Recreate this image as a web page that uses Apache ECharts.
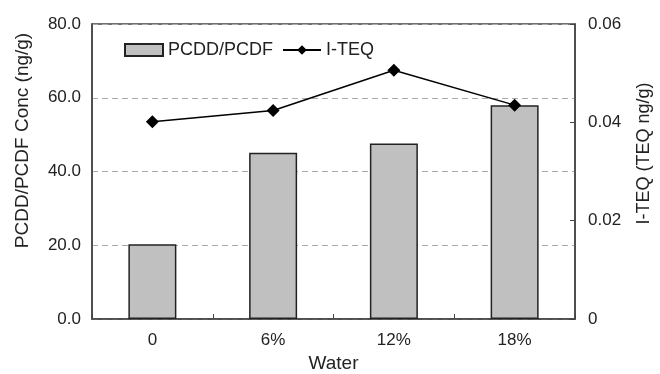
<!DOCTYPE html>
<html>
<head>
<meta charset="utf-8">
<script src="https://cdn.jsdelivr.net/npm/echarts@6/dist/echarts.min.js"></script>
<style>
  html, body { margin: 0; padding: 0; background: #fff; }
  #chart { width: 660px; height: 374px; }
</style>
</head>
<body>
<div id="chart"></div>
<script>
// Water content levels on the x axis
const categories = ['0', '6%', '12%', '18%'];
// PCDD/PCDF concentration (ng/g), left axis
const pcddValues = [20.3, 45.1, 47.6, 58.0];
// I-TEQ (TEQ ng/g), right axis
const iteqValues = [0.0401, 0.0424, 0.0506, 0.0435];

const FONT = "'Liberation Sans', Arial, sans-serif";
const TEXT = '#222';
const AXIS = '#444';

const chart = echarts.init(document.getElementById('chart'), null, { renderer: 'canvas' });

chart.setOption({
  animation: false,
  backgroundColor: '#fff',
  textStyle: { fontFamily: FONT, color: TEXT },
  grid: {
    left: 92, right: 85, top: 24, bottom: 55,
    outerBoundsMode: 'none',
    containLabel: false,
    show: true, borderColor: AXIS, borderWidth: 1.5, backgroundColor: 'transparent'
  },
  legend: {
    left: 119, top: 36,
    itemWidth: 38, itemHeight: 12, itemGap: 9,
    textStyle: { fontFamily: FONT, fontSize: 18, color: TEXT },
    data: [
      { name: 'PCDD/PCDF', icon: 'rect' },
      { name: 'I-TEQ' }
    ]
  },
  xAxis: {
    type: 'category',
    data: categories,
    name: 'Water',
    nameLocation: 'middle',
    nameGap: 32,
    nameTextStyle: { fontFamily: FONT, fontSize: 19, color: TEXT },
    axisLine: { lineStyle: { color: AXIS, width: 1.5 } },
    axisTick: { show: true, inside: true, length: 5, alignWithLabel: false, lineStyle: { color: AXIS } },
    axisLabel: { fontFamily: FONT, fontSize: 17, color: TEXT, margin: 13 },
    splitLine: { show: false }
  },
  yAxis: [
    {
      type: 'value',
      min: 0, max: 80, interval: 20,
      position: 'left',
      name: 'PCDD/PCDF Conc (ng/g)',
      nameLocation: 'middle',
      nameGap: 60,
      nameRotate: 90,
      nameTextStyle: { fontFamily: FONT, fontSize: 19, color: TEXT, padding: [0, 0, 0, 62] },
      axisLine: { show: true, lineStyle: { color: AXIS, width: 1.5 } },
      axisTick: { show: false },
      axisLabel: { fontFamily: FONT, fontSize: 17, color: TEXT, margin: 11,
        formatter: v => v.toFixed(1) },
      splitLine: { show: true, lineStyle: { color: '#aaa', type: [6, 4], width: 1 } }
    },
    {
      type: 'value',
      min: 0, max: 0.06, interval: 0.02,
      position: 'right',
      name: 'I-TEQ (TEQ ng/g)',
      nameLocation: 'middle',
      nameGap: 60,
      nameRotate: 90,
      nameTextStyle: { fontFamily: FONT, fontSize: 18, color: TEXT, padding: [0, 0, 0, 36] },
      axisLine: { show: true, lineStyle: { color: AXIS, width: 1.5 } },
      axisTick: { show: true, inside: true, length: 5, lineStyle: { color: AXIS } },
      axisLabel: { fontFamily: FONT, fontSize: 17, color: TEXT, margin: 13,
        formatter: v => (v === 0 ? '0' : v.toFixed(2)) },
      splitLine: { show: false }
    }
  ],
  series: [
    {
      name: 'PCDD/PCDF',
      type: 'bar',
      yAxisIndex: 0,
      data: pcddValues,
      barWidth: 48,
      itemStyle: { color: '#c0c0c0', borderColor: '#222', borderWidth: 1.5 }
    },
    {
      name: 'I-TEQ',
      type: 'line',
      yAxisIndex: 1,
      data: iteqValues,
      symbol: 'diamond',
      symbolSize: 13,
      lineStyle: { color: '#000', width: 1.5 },
      itemStyle: { color: '#000' }
    }
  ]
});
</script>
</body>
</html>
